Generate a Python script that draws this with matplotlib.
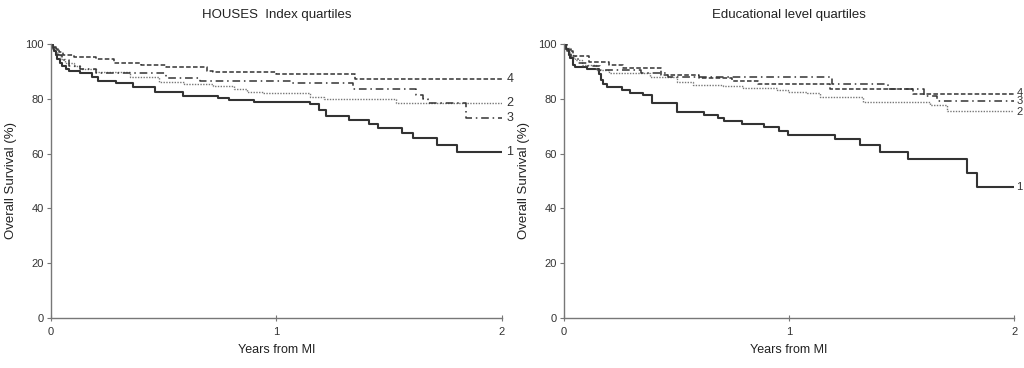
import matplotlib
matplotlib.use("Agg")
import matplotlib.pyplot as plt

plt.rcParams['font.family'] = ['Liberation Sans', 'DejaVu Sans']

# ---------------- data (Kaplan-Meier step curves) ----------------
# HOUSES Index quartiles
h1_t = [0, 0.005, 0.012, 0.02, 0.028, 0.04, 0.05, 0.065, 0.08, 0.13, 0.18, 0.21, 0.29, 0.365, 0.46,
        0.587, 0.74, 0.79, 0.9, 1.15, 1.19, 1.22, 1.32, 1.41, 1.45, 1.555, 1.605, 1.71, 1.8, 2.0]
h1_s = [100, 99, 97.5, 96, 94.5, 93, 92, 91, 90, 89.3, 88, 86.6, 85.6, 84.2, 82.6,
        81.1, 80.2, 79.6, 79, 78, 76, 73.7, 72.3, 70.8, 69.2, 67.6, 65.6, 63.1, 60.7, 60.7]
h2_t = [0, 0.01, 0.025, 0.04, 0.06, 0.1, 0.13, 0.2, 0.35, 0.48, 0.59, 0.72, 0.81, 0.87, 0.94,
        1.15, 1.21, 1.53, 2.0]
h2_s = [100, 98.5, 96.5, 94.5, 93, 92, 90.8, 89.6, 88, 86, 85.4, 84.5, 83.4, 82.6, 82,
        80.8, 79.8, 78.3, 78.3]
h3_t = [0, 0.01, 0.03, 0.05, 0.08, 0.13, 0.2, 0.51, 0.66, 1.07, 1.34, 1.62, 1.65, 1.67, 1.84, 2.0]
h3_s = [100, 98, 96, 94, 92, 90.8, 89.3, 87.5, 86.6, 85.6, 83.6, 81.5, 80, 78.3, 72.9, 72.9]
h4_t = [0, 0.01, 0.02, 0.035, 0.055, 0.1, 0.2, 0.28, 0.4, 0.51, 0.69, 0.72, 1.0, 1.35, 2.0]
h4_s = [100, 99, 98, 97, 96, 95.4, 94.4, 93, 92.3, 91.7, 90.3, 89.6, 88.9, 87.2, 87.2]

# Educational level quartiles
e1_t = [0, 0.01, 0.02, 0.025, 0.04, 0.05, 0.1, 0.155, 0.165, 0.175, 0.19, 0.256, 0.293, 0.35,
        0.39, 0.5, 0.62, 0.686, 0.71, 0.79, 0.889, 0.956, 0.997, 1.204, 1.316, 1.404, 1.53,
        1.79, 1.837, 2.0]
e1_s = [100, 98, 96, 94.9, 92.4, 91.7, 90.8, 89, 87, 85.5, 84.4, 83.2, 82.2, 81.4,
        78.6, 75.3, 74.1, 72.9, 71.9, 70.7, 69.6, 68.4, 66.8, 65.2, 63.1, 60.7, 58,
        52.8, 47.7, 47.7]
e2_t = [0, 0.01, 0.025, 0.05, 0.08, 0.14, 0.2, 0.38, 0.5, 0.575, 0.708, 0.797, 0.945, 0.997,
        1.08, 1.138, 1.33, 1.627, 1.7, 2.0]
e2_s = [100, 98.5, 96, 94, 92.4, 90.5, 89.3, 88.1, 86.3, 85, 84.5, 83.8, 83.2, 82.6,
        82, 80.8, 79, 77.7, 75.7, 75.7]
e3_t = [0, 0.01, 0.03, 0.06, 0.1, 0.16, 0.34, 0.46, 1.19, 1.44, 1.6, 1.657, 2.0]
e3_s = [100, 98, 95, 93, 92, 90.5, 89.3, 88.1, 85.4, 83.4, 81, 79.2, 79.2]
e4_t = [0, 0.015, 0.04, 0.11, 0.2, 0.26, 0.43, 0.6, 0.748, 0.86, 1.18, 1.55, 2.0]
e4_s = [100, 97.3, 95.5, 93.5, 92.3, 91.1, 88.7, 87.5, 86.6, 85.4, 83.4, 81.6, 81.6]

titles = ["HOUSES  Index quartiles", "Educational level quartiles"]
xticks = [0, 1, 2]
yticks = [0, 20, 40, 60, 80, 100]
xlabel = "Years from MI"
ylabel = "Overall Survival (%)"
group_labels = ["1", "2", "3", "4"]

# ---------------- styles ----------------
styles = {
    "1": dict(color="#333333", lw=1.5, linestyle="-"),
    "2": dict(color="#777777", lw=1.0, linestyle=(0, (1, 1))),
    "3": dict(color="#333333", lw=1.1, linestyle=(0, (5, 2.5, 1, 2.5))),
    "4": dict(color="#333333", lw=1.1, linestyle=(0, (3, 1.5))),
}

fig = plt.figure(figsize=(10.24, 3.68), dpi=100)
axL = fig.add_axes([0.0498, 0.1359, 0.4404, 0.7446])
axR = fig.add_axes([0.5508, 0.1359, 0.4395, 0.7446])

panels = [
    (axL, [(h1_t, h1_s), (h2_t, h2_s), (h3_t, h3_s), (h4_t, h4_s)], 0.02, 9,
     {"1": 0, "2": 0, "3": 0, "4": 0}),
    (axR, [(e1_t, e1_s), (e2_t, e2_s), (e3_t, e3_s), (e4_t, e4_s)], 0.01, 8,
     {"1": 0, "2": -0.6, "3": 0, "4": 0.6}),
]

for (ax, curves, dx, fs, offs), title in zip(panels, titles):
    for lab, (t, s) in zip(group_labels, curves):
        ax.step(t, s, where="post", **styles[lab])
        ax.text(t[-1] + dx, s[-1] + offs[lab], lab, fontsize=fs, color="#333333",
                ha="left", va="center", clip_on=False)
    ax.set_xlim(0, 2)
    ax.set_ylim(0, 100)
    ax.set_xticks(xticks)
    ax.set_yticks(yticks)
    for sp in ["top", "right"]:
        ax.spines[sp].set_visible(False)
    for sp in ["left", "bottom"]:
        ax.spines[sp].set_color("#777777")
        ax.spines[sp].set_linewidth(1.0)
    ax.tick_params(axis="y", direction="out", length=3, color="#777777",
                   labelsize=8, labelcolor="#333333", pad=2)
    ax.tick_params(axis="x", direction="inout", length=5, color="#777777",
                   labelsize=8, labelcolor="#333333", pad=4)
    ax.set_title(title, fontsize=9.5, color="#222222", pad=19)
    ax.set_xlabel(xlabel, fontsize=9, color="#222222", labelpad=5)
    ax.set_ylabel(ylabel, fontsize=9.5, color="#222222", labelpad=6)

fig.savefig("out.png", dpi=100)
